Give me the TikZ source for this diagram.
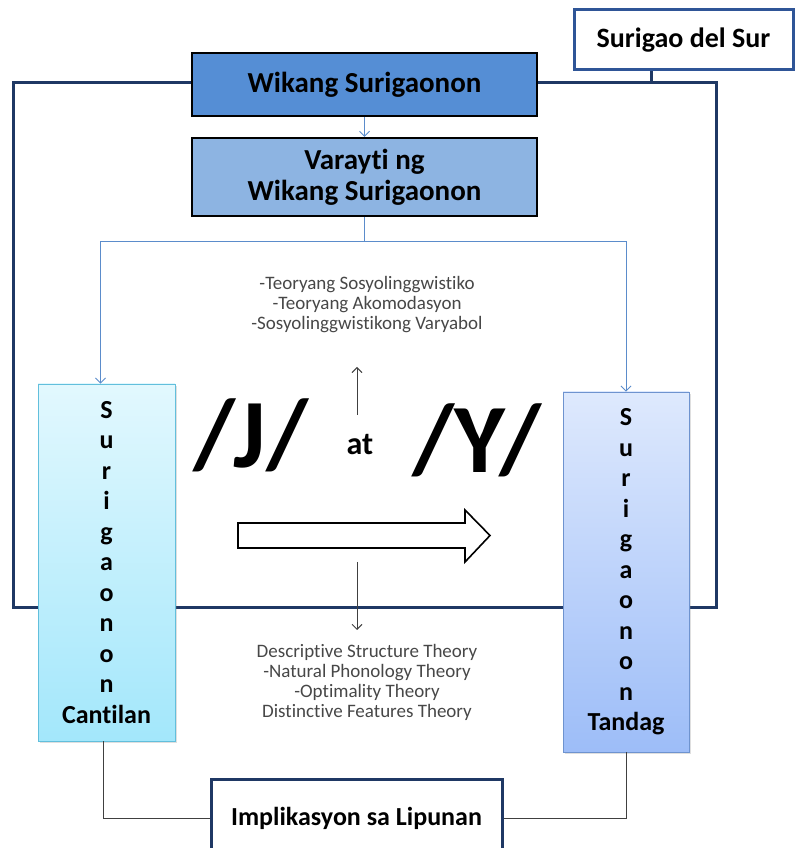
\documentclass[tikz,border=0pt]{standalone}
\usepackage{fontspec}
\setmainfont{Carlito}[Ligatures=NoCommon]
\usetikzlibrary{
    positioning,
    arrows.meta,
    shadows
}
\definecolor{navy}{HTML}{1F3864}
\definecolor{midblue}{HTML}{2F5597}
\definecolor{wikblue}{HTML}{558ED5}
\definecolor{varblue}{HTML}{8DB4E2}
\definecolor{linkblue}{HTML}{5B8CCB}
\definecolor{cyantop}{HTML}{E2F8FE}
\definecolor{cyanbot}{HTML}{A3E7FB}
\definecolor{cyanedge}{HTML}{62BFDC}
\definecolor{bluetop}{HTML}{DEE9FD}
\definecolor{bluebot}{HTML}{9DBDF8}
\definecolor{blueedge}{HTML}{6E93CF}
\definecolor{theorygray}{HTML}{474747}

\begin{document}
\begin{tikzpicture}[
    x=1pt, y=1pt,
    topbox/.style={
        draw=black,
        line width=2.2pt,
        minimum width=345pt,
        align=center,
        font=\fontsize{29}{31}\selectfont\bfseries
    },
    outbox/.style={
        fill=white,
        line width=3pt,
        align=center,
        font=\fontsize{28}{31}\selectfont\bfseries
    },
    sidebox/.style={
        line width=0.9pt,
        align=center,
        drop shadow={opacity=0.25, shadow xshift=2pt, shadow yshift=-2pt},
        font=\fontsize{26}{30.5}\selectfont\bfseries
    },
    theory/.style={
        align=center,
        text=theorygray,
        font=\fontsize{19}{20}\selectfont
    },
    link/.style={draw=linkblue, line width=0.9pt},
    arrow/.style={-{Straight Barb[length=5pt, width=10pt]}},
    plain/.style={draw=black!75, line width=0.9pt}
]

% Fix the page to the reference size
\useasboundingbox (0,0) rectangle (795,848);

% ================= FRAME =================
\node[draw=navy, line width=3pt, minimum width=703pt, minimum height=525pt] (frame) at (364.5,502.5) {};

\node[outbox, draw=midblue, minimum width=219pt, minimum height=60pt] (sds) at (683.5,808) {Surigao del Sur};
\draw[navy, line width=3pt] ([xshift=-32.5pt]sds.south) -- ([xshift=-32.5pt]sds.south |- frame.north);

% ================= TOP BOXES =================
\node[topbox, fill=wikblue, minimum height=63pt] (wika) at (364.5,763.5) {Wikang Surigaonon};
\node[topbox, fill=varblue, minimum height=78pt] (varayti) at (364.5,671) {Varayti ng\\Wikang Surigaonon};

\draw[link, arrow] (wika.south) -- (varayti.north);

% ================= SIDE BOXES =================
\node[sidebox, draw=cyanedge, top color=cyantop, bottom color=cyanbot,
      minimum width=137pt, minimum height=357pt] (cantilan) at (106.5,285.5)
{S\\u\\r\\i\\g\\a\\o\\n\\o\\n\\Cantilan};

\node[sidebox, draw=blueedge, top color=bluetop, bottom color=bluebot,
      minimum width=126pt, minimum height=360pt] (tandag) at (626,276)
{S\\u\\r\\i\\g\\a\\o\\n\\o\\n\\Tandag};

\coordinate (split) at ([yshift=-24pt]varayti.south);
\draw[link] (varayti.south) -- (split);
\draw[link, arrow] (split) -| ([xshift=-6pt]cantilan.north);
\draw[link, arrow] (split) -| (tandag.north);

% ================= CENTRE =================
\node[theory] (socio) at (367,543)
{-Teoryang Sosyolinggwistiko\\-Teoryang Akomodasyon\\-Sosyolinggwistikong Varyabol};

\node[font=\fontsize{98}{98}\selectfont\bfseries] (jsound) at (251,413) {/J/};
\node[font=\fontsize{32}{32}\selectfont\bfseries] (at) at (360,403) {at};
\node[font=\fontsize{98}{98}\selectfont\bfseries] (ysound) at (477,408) {/Y/};

\coordinate (upfoot) at (357,433);
\coordinate (uphead) at (357,481);
\draw[plain, arrow] (upfoot) -- (uphead);

% hollow arrow
\draw[line width=1.6pt] (238,300) -- (465,300) -- (465,286) -- (490,312.5)
    -- (465,338) -- (465,325) -- (238,325) -- cycle;

\coordinate (downfoot) at (357,286);
\coordinate (downhead) at (357,218);
\draw[plain, arrow] (downfoot) -- (downhead);

\node[theory] (phono) at (367,166)
{Descriptive Structure Theory\\-Natural Phonology Theory\\-Optimality Theory\\Distinctive Features Theory};

% ================= BOTTOM =================
\node[outbox, draw=navy, minimum width=291pt, minimum height=76pt, font=\fontsize{26}{30}\selectfont\bfseries] (impl) at (356.5,30)
{Implikasyon sa Lipunan};

\draw[plain] ([xshift=-3pt]cantilan.south) |- (impl.west);
\draw[plain] (tandag.south) |- (impl.east);

\end{tikzpicture}
\end{document}
